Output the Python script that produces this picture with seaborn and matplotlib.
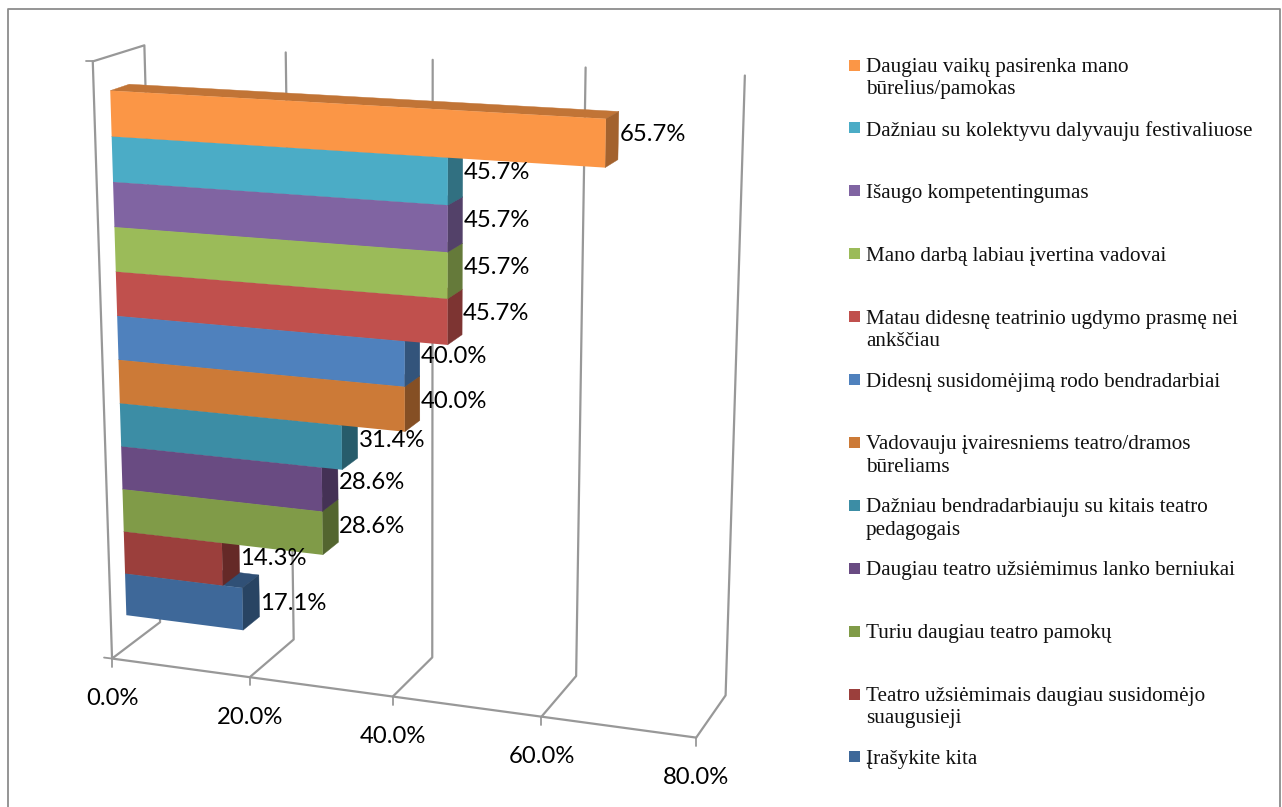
import numpy as np
import pandas as pd
import matplotlib
matplotlib.use("Agg")
import matplotlib.pyplot as plt
from matplotlib.patches import Polygon
from matplotlib.transforms import Affine2D, Transform
import seaborn as sns

categories = [
    "Daugiau vaikų pasirenka mano\nbūrelius/pamokas",
    "Dažniau su kolektyvu dalyvauju festivaliuose",
    "Išaugo kompetentingumas",
    "Mano darbą labiau įvertina vadovai",
    "Matau didesnę teatrinio ugdymo prasmę nei\nankščiau",
    "Didesnį susidomėjimą rodo bendradarbiai",
    "Vadovauju įvairesniems teatro/dramos\nbūreliams",
    "Dažniau bendradarbiauju su kitais teatro\npedagogais",
    "Daugiau teatro užsiėmimus lanko berniukai",
    "Turiu daugiau teatro pamokų",
    "Teatro užsiėmimais daugiau susidomėjo\nsuaugusieji",
    "Įrašykite kita",
]
values = [65.7, 45.7, 45.7, 45.7, 45.7, 40.0, 40.0, 31.4, 28.6, 28.6, 14.3, 17.1]
colors = ["#FB9646", "#4BACC6", "#8064A2", "#9BBB59", "#C0504D", "#4F81BD",
          "#CC7A37", "#3C8DA5", "#694B82", "#809B48", "#9B3F3C", "#3E6899"]
ticks = [0, 20, 40, 60, 80]

W, H = 1282, 807
GRID = "#989898"

# frame of the 3d box in the picture: (value, height, depth) -> pixel
calib = [
    (0, 0, 0, 113, 658), (20, 0, 0, 249, 677), (40, 0, 0, 392, 697),
    (60, 0, 0, 542, 717), (80, 0, 0, 697, 737),
    (0, 0, 1, 160, 622), (20, 0, 1, 293, 640), (40, 0, 1, 433, 658),
    (60, 0, 1, 576, 676), (80, 0, 1, 725, 695),
    (0, 1, 1, 145, 45), (20, 1, 1, 286, 52), (40, 1, 1, 433, 59),
    (60, 1, 1, 585, 69), (80, 1, 1, 745, 75),
    (0, 1, 0, 92, 62),
]
A, b = [], []
for X, Y, Z, u, v in calib:
    A.append([X, Y, Z, 1, 0, 0, 0, 0, -u * X, -u * Y, -u * Z])
    b.append(u)
    A.append([0, 0, 0, 0, X, Y, Z, 1, -v * X, -v * Y, -v * Z])
    b.append(v)
cam = np.append(np.linalg.lstsq(np.array(A, float), np.array(b, float), rcond=None)[0], 1).reshape(3, 4)


def project(x, y, z):
    p = cam @ np.array([x, y, z, 1.0])
    return p[0] / p[2], p[1] / p[2]


# bar block inside the box
Z_FRONT, Z_BACK = 0.31, 0.68
H_TOP, H_BOT = 0.945, 0.057
n = len(values)


def height_of(c):
    return H_TOP - (c + 0.5) / n * (H_TOP - H_BOT)


class BarPlane(Transform):
    input_dims = 2
    output_dims = 2

    def transform_non_affine(self, pts):
        pts = np.asarray(pts, float)
        return np.array([project(x, height_of(c), Z_FRONT) for x, c in pts])


sns.set_theme(style="white")
fig = plt.figure(figsize=(W / 100, H / 100), dpi=100)
ax = fig.add_axes([0, 0, 1, 1])

df = pd.DataFrame({"category": categories, "value": values})
sns.barplot(data=df, x="value", y="category", hue="category", hue_order=categories,
            palette=colors, dodge=False, width=1, legend=False, ax=ax, saturation=1)
ax.set_axis_off()

pix = Affine2D().scale(1, -1).translate(0, H)
bar_tf = BarPlane() + pix


def shade(col, f):
    return tuple(c * f for c in matplotlib.colors.to_rgb(col))


def add_face(pts, col, z):
    ax.add_patch(Polygon(pts, closed=True, transform=pix, facecolor=col, edgecolor=col,
                         lw=0.3, zorder=z, clip_on=False))


bars = sorted(ax.patches, key=lambda p: p.get_y())
for i, bar in enumerate(bars):
    v = values[i]
    top, bot = height_of(i - 0.5), height_of(i + 0.5)
    base = 10 + 3 * (n - i)
    add_face([project(0, top, Z_FRONT), project(v, top, Z_FRONT),
              project(v, top, Z_BACK), project(0, top, Z_BACK)], shade(colors[i], 0.77), base)
    add_face([project(v, top, Z_FRONT), project(v, bot, Z_FRONT),
              project(v, bot, Z_BACK), project(v, top, Z_BACK)], shade(colors[i], 0.65), base + 1)
    bar.set_transform(bar_tf)
    bar.set_clip_on(False)
    bar.set_edgecolor("none")
    bar.set_zorder(base + 2)
    lx, ly = project(v, height_of(i), Z_BACK)
    # labels drift below the bar ends towards the bottom of the chart
    drift = (ly - 135) / 460 * 9
    ax.text(lx + 1, H - ly + 1.5 - drift, f"{v:.1f}%", transform=None, family="Lato", fontsize=17.2,
            color="black", va="center", ha="left", zorder=100)

# box frame and tick labels
for t in ticks:
    path = [project(t, 0, 0), project(t, 0, 1), project(t, 1, 1)]
    if t == 0:
        path += [project(0, 1, 0), project(0, 0, 0)]
    xs, ys = zip(*path)
    ax.plot(xs, ys, color=GRID, lw=1.6, transform=pix, zorder=2, clip_on=False)
    fx, fy = project(t, 0, 0)
    ax.plot([fx, fx], [fy, fy + 8], color=GRID, lw=1.3, transform=pix, zorder=2, clip_on=False)
    ax.text(fx, H - fy - 40, f"{t:.1f}%", transform=None, family="Lato", fontsize=17.2,
            color="black", va="center", ha="center", zorder=100)
xs, ys = zip(project(0, 0, 0), project(80, 0, 0))
ax.plot(xs, ys, color=GRID, lw=1.6, transform=pix, zorder=2, clip_on=False)
fx, fy = project(0, 0, 0)
ax.plot([fx - 8, fx], [fy - 1, fy], color=GRID, lw=1.3, transform=pix, zorder=2, clip_on=False)
fx, fy = project(0, 1, 0)
ax.plot([fx - 7, fx], [fy, fy], color=GRID, lw=1.3, transform=pix, zorder=2, clip_on=False)

# legend
for i, (lab, col) in enumerate(zip(categories, colors)):
    y = 65 + i * 62.9
    ax.add_patch(Polygon([(849, y - 5.5), (860, y - 5.5), (860, y + 5.5), (849, y + 5.5)],
                         transform=pix, facecolor=col, edgecolor="none", zorder=50, clip_on=False))
    ax.text(866, H - y + 7, lab, transform=None, family="Liberation Serif", fontsize=15.2,
            color="#111111", va="top", ha="left", linespacing=1.24, zorder=50)

# outer border
ax.plot([7.5, 7.5, 1280, 1280], [H, 8.5, 8.5, H], color="#8C8C8C", lw=1.3, transform=pix, clip_on=False)

fig.savefig("out.png", dpi=100)
